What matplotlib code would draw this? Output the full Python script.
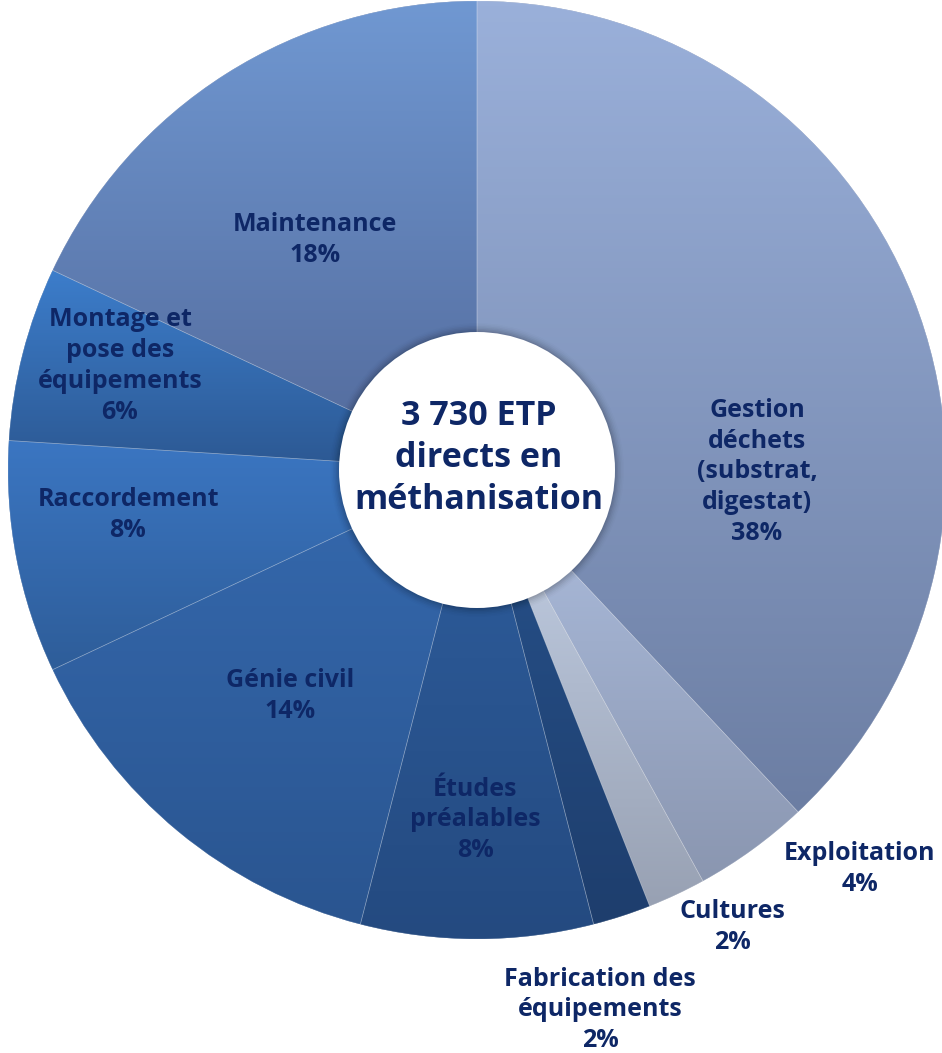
import numpy as np
import matplotlib
matplotlib.use("Agg")
import matplotlib.pyplot as plt
from matplotlib.colors import LinearSegmentedColormap
from matplotlib.patches import Circle, Wedge

# ---- data ----
categories = ["Gestion\ndéchets\n(substrat,\ndigestat)", "Exploitation", "Cultures",
              "Fabrication des\néquipements", "Études\npréalables", "Génie civil",
              "Raccordement", "Montage et\npose des\néquipements", "Maintenance"]
shares = [38, 4, 2, 2, 8, 14, 8, 6, 18]
center_title = "3 730 ETP\ndirects en\nméthanisation"

# gradient colours (top, bottom) for each slice
top_colors = ["#9AB0DA", "#AEBFE0", "#C5D2E8", "#27528C", "#2E5E9E",
              "#3569AE", "#3B76C2", "#3C7DCB", "#7098D2"]
bottom_colors = ["#6C7EA3", "#8A96B0", "#98A1B3", "#1E3E6D", "#244A80",
                 "#2A5590", "#2E5D99", "#2C5892", "#52699A"]

# label anchor positions in pixel space (layout)
label_pos = [(757, 472), (860, 869), (732, 927), (600, 1010), (475, 820),
             (290, 696), (128, 515), (120, 366), (315, 240)]

W, H = 942, 1053
txt_color = "#0E2766"
plt.rcParams['font.family'] = ['Open Sans', 'DejaVu Sans']

fig = plt.figure(figsize=(W / 100, H / 100), dpi=100)
ax = fig.add_axes([0, 0, 1, 1])
ax.set_xlim(0, W)
ax.set_ylim(0, H)

cx, cy_pix, R = 477, 470, 469
cy = H - cy_pix

wedges, _ = ax.pie(shares, startangle=90, counterclock=False, center=(cx, cy),
                   radius=R, frame=True,
                   wedgeprops=dict(linewidth=0, edgecolor="none"))
ax.set_xlim(0, W)
ax.set_ylim(0, H)
ax.set_aspect('equal')
ax.axis('off')

grad = np.linspace(0, 1, 256).reshape(-1, 1)
for w, tc, bc in zip(wedges, top_colors, bottom_colors):
    w.set_facecolor(bc)
    ext = w.get_path().get_extents(w.get_patch_transform())
    cmap = LinearSegmentedColormap.from_list("g", [bc, tc])
    im = ax.imshow(grad, cmap=cmap, origin='lower', aspect='auto',
                   extent=(ext.x0, ext.x1, ext.y0, ext.y1), zorder=2,
                   interpolation='bilinear')
    im.set_clip_path(w)

# thin light separators
for w in wedges:
    ax.add_patch(Wedge(w.center, w.r, w.theta1, w.theta2,
                       facecolor='none', edgecolor=(1, 1, 1, 0.25),
                       linewidth=0.5, zorder=3))

# centre hole with soft shadow
hr = 138
for i, a in enumerate(np.linspace(0.06, 0.01, 6)):
    ax.add_patch(Circle((cx, cy), hr + 1.5 * (i + 1), facecolor=(0, 0, 0, a),
                        edgecolor='none', zorder=4))
ax.add_patch(Circle((cx, cy), hr, facecolor='white', edgecolor='none', zorder=5))
ax.text(cx + 2, cy + 12, center_title, ha='center', va='center', fontsize=24.5,
        fontweight='bold', color=txt_color, linespacing=1.32, zorder=6)

for name, val, (lx, ly) in zip(categories, shares, label_pos):
    ax.text(lx, H - ly, f"{name}\n{val}%", ha='center', va='center', fontsize=18,
            fontweight='bold', color=txt_color, linespacing=1.3, zorder=6)

fig.savefig("out.png", dpi=100, facecolor='white')
